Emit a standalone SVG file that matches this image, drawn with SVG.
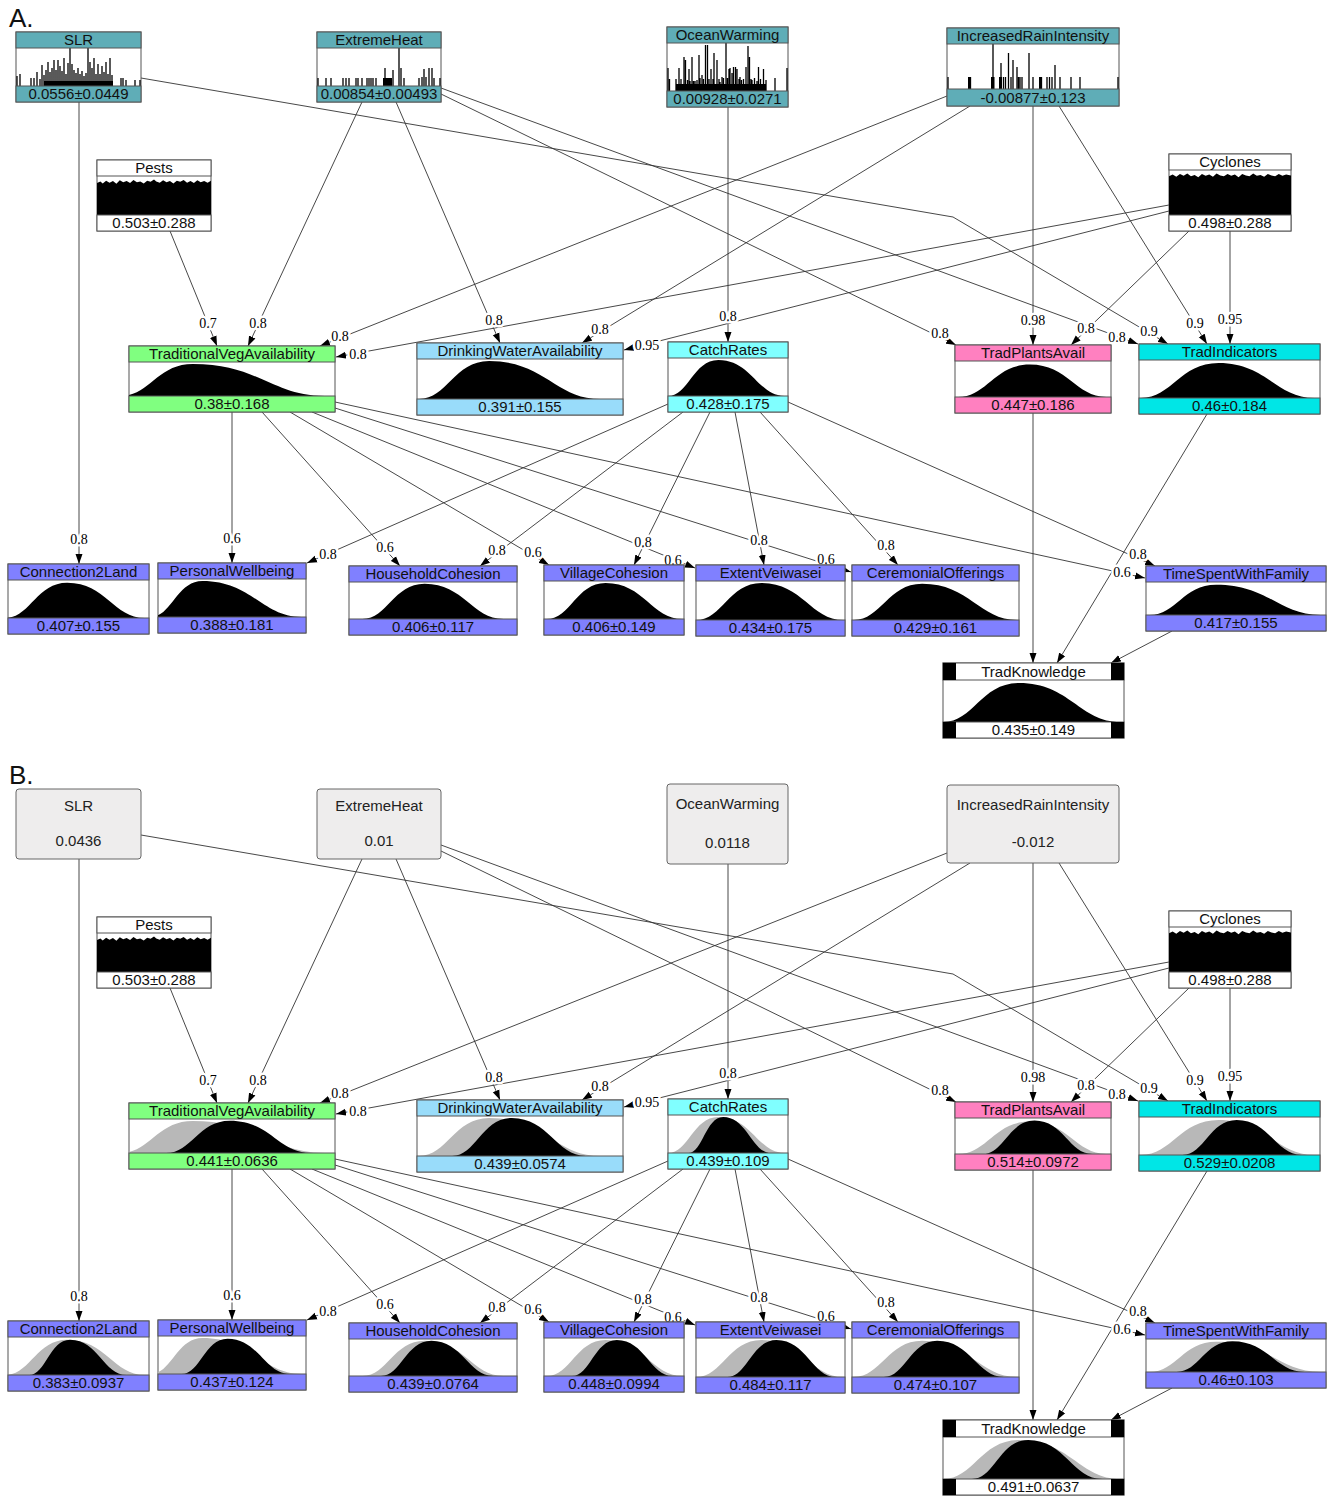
<svg xmlns="http://www.w3.org/2000/svg" xmlns:xlink="http://www.w3.org/1999/xlink" width="1328" height="1505" viewBox="0 0 1328 1505">
<style>
.box{fill:#fff;stroke:#555;stroke-width:1}
.hd{stroke:#555;stroke-width:1}
.nt{font-family:"Liberation Sans",Arial,sans-serif;font-size:15px;text-anchor:middle;fill:#111}
.gt{font-family:"Liberation Sans",Arial,sans-serif;font-size:15px;text-anchor:middle;fill:#222}
.gb{fill:#eeeded;stroke:#666;stroke-width:1}
.el{font-family:"Liberation Serif","Times New Roman",serif;font-size:14px;text-anchor:middle;fill:#000;stroke:#fff;stroke-width:5;stroke-linejoin:round;paint-order:stroke}
.e{fill:none;stroke:#333;stroke-width:0.9;marker-end:url(#ah)}
.sp{fill:none;stroke:#000;stroke-width:1.3}
.pl{font-family:"Liberation Sans",Arial,sans-serif;font-size:26px;fill:#111}
.pr{fill:#b8b8b8}
</style>
<defs>
<marker id="ah" markerUnits="userSpaceOnUse" markerWidth="10" markerHeight="8" viewBox="0 0 10 8" refX="10" refY="4" orient="auto"><path d="M0,0.5L10,4L0,7.5Z" fill="#000"/></marker>
<path id="dTVA" d="M-4,100 C10,100 13.5,6 31,6 C63,6 69.4,100 95,100 Z"/>
<path id="dDWA" d="M1,100 C14.6,100 18,5 35,5 C62,5 67.4,100 89,100 Z"/>
<path id="dCR" d="M0,100 C16.8,100 21,5 42,5 C69.5,5 75,100 97,100 Z"/>
<path id="dTPA" d="M2,100 C20.4,100 25,10 48,10 C72.5,10 77.4,100 97,100 Z"/>
<path id="dTI" d="M1,100 C18.2,100 22.5,8 44,8 C70.5,8 75.8,100 97,100 Z"/>
<path id="dC2L" d="M-2,100 C15.6,100 20,7 42,7 C69.5,7 75,100 97,100 Z"/>
<path id="dPW" d="M-5,100 C9,100 12.5,5 30,5 C63.5,5 70.2,100 97,100 Z"/>
<path id="dHC" d="M8,100 C22.8,100 26.5,5 45,5 C68.5,5 73.2,100 92,100 Z"/>
<path id="dVC" d="M2,100 C18.8,100 23,5 44,5 C71.5,5 77,100 99,100 Z"/>
<path id="dEV" d="M0,100 C17.6,100 22,5 44,5 C71.5,5 77,100 99,100 Z"/>
<path id="dCO" d="M1,100 C17.4,100 21.5,7 42,7 C70.5,7 76.2,100 99,100 Z"/>
<path id="dTSF" d="M2,100 C16.8,100 20.5,8 39,8 C68,8 73.8,100 97,100 Z"/>
<path id="dTK" d="M0,100 C16.8,100 21,7 42,7 C70,7 75.6,100 98,100 Z"/>
<path id="dPests" d="M0,100 V18 L3,14 L5,19 L8,12 L11,17 L14,13 L17,20 L20,11 L23,16 L26,13 L29,18 L32,10 L35,16 L38,14 L41,19 L44,12 L47,15 L50,9 L52,14 L55,17 L58,11 L61,16 L64,13 L67,19 L70,12 L73,15 L76,10 L79,17 L82,13 L85,18 L88,11 L91,16 L94,13 L97,17 L100,12 V100 Z"/>
<path id="dCyc" d="M0,100 V14 L3,10 L6,15 L9,9 L12,13 L15,8 L18,14 L21,11 L24,16 L27,9 L30,13 L33,10 L36,15 L39,8 L42,12 L45,14 L48,9 L51,13 L54,10 L57,16 L60,9 L63,12 L66,14 L69,8 L72,13 L75,11 L78,15 L81,9 L84,12 L87,14 L90,9 L93,13 L96,10 L100,12 V100 Z"/>
</defs>
<rect width="1328" height="1505" fill="#fff"/>
<text class="pl" x="9" y="27">A.</text>
<text class="pl" x="9" y="784">B.</text>

<!-- ================= PART A ================= -->
<g id="partA">
<g id="A-connectors">
<path class="e" d="M79,102V564"/>
<path class="e" d="M141,78L953,217L1168,344"/>
<path class="e" d="M362,102L248,346"/>
<path class="e" d="M396,102L500,343"/>
<path class="e" d="M441,88L1138,344"/>
<path class="e" d="M441,94L956,345"/>
<path class="e" d="M728,107V342"/>
<path class="e" d="M947,96L320,346"/>
<path class="e" d="M970,106L582,343"/>
<path class="e" d="M1033,106V345"/>
<path class="e" d="M1059,106L1207,344"/>
<path class="e" d="M170,231L217,346"/>
<path class="e" d="M1169,205L336,357"/>
<path class="e" d="M1169,211L624,350"/>
<path class="e" d="M1189,231L1071,345"/>
<path class="e" d="M1230,231V344"/>
<path class="e" d="M232,412V563"/>
<path class="e" d="M262,412L400,566"/>
<path class="e" d="M290,412L549,565"/>
<path class="e" d="M312,412L695,568"/>
<path class="e" d="M335,408L851,572"/>
<path class="e" d="M335,402L1145,578"/>
<path class="e" d="M668,404L307,563"/>
<path class="e" d="M683,412L480,566"/>
<path class="e" d="M710,412L634,565"/>
<path class="e" d="M735,412L764,565"/>
<path class="e" d="M760,412L898,565"/>
<path class="e" d="M788,402L1155,566"/>
<path class="e" d="M1033,413V663"/>
<path class="e" d="M1207,414L1057,663"/>
<path class="e" d="M1172,631L1111,663"/>
<text class="el" x="79" y="544">0.8</text>
<text class="el" x="1149" y="336">0.9</text>
<text class="el" x="258" y="328">0.8</text>
<text class="el" x="494" y="325">0.8</text>
<text class="el" x="1117" y="342">0.8</text>
<text class="el" x="940" y="338">0.8</text>
<text class="el" x="728" y="321">0.8</text>
<text class="el" x="340" y="341">0.8</text>
<text class="el" x="600" y="334">0.8</text>
<text class="el" x="1033" y="325">0.98</text>
<text class="el" x="1195" y="328">0.9</text>
<text class="el" x="208" y="328">0.7</text>
<text class="el" x="358" y="359">0.8</text>
<text class="el" x="647" y="350">0.95</text>
<text class="el" x="1086" y="333">0.8</text>
<text class="el" x="1230" y="324">0.95</text>
<text class="el" x="232" y="543">0.6</text>
<text class="el" x="385" y="552">0.6</text>
<text class="el" x="533" y="557">0.6</text>
<text class="el" x="673" y="565">0.6</text>
<text class="el" x="826" y="564">0.6</text>
<text class="el" x="1122" y="577">0.6</text>
<text class="el" x="328" y="559">0.8</text>
<text class="el" x="497" y="555">0.8</text>
<text class="el" x="643" y="547">0.8</text>
<text class="el" x="759" y="545">0.8</text>
<text class="el" x="886" y="550">0.8</text>
<text class="el" x="1138" y="559">0.8</text>
</g>

<g id="A-SLR">
<rect class="box" x="16" y="32" width="125" height="70"/>
<rect x="44" y="81" width="69" height="5"/>
<path class="sp" d="M17,86V76M20,86V74M31,86V78M34,86V78M37,86V72M40,86V79M42,86V65M44,86V75M46,86V70M48,86V62M50,86V72M52,86V68M54,86V60M56,86V70M58,86V60M60,86V66M62,86V71M64,86V58M66,86V74M68,86V63M70,86V48M72,86V64M74,86V70M76,86V73M78,86V68M80,86V74M82,86V71M84,86V76M86,86V73M88,86V48M90,86V62M92,86V68M94,86V58M96,86V74M98,86V64M100,86V74M102,86V66M104,86V72M106,86V62M108,86V74M110,86V58M112,86V75M121,86V78M123,86V78M126,86V80M135,86V80M140,86V80"/>
<rect class="hd" x="16" y="32" width="125" height="16" fill="#5fadb7"/>
<rect class="hd" x="16" y="86" width="125" height="16" fill="#5fadb7"/>
<text class="nt" x="78.5" y="45">SLR</text>
<text class="nt" x="78.5" y="99">0.0556±0.0449</text>
</g>

<g id="A-ExtremeHeat">
<rect class="box" x="317" y="32" width="124" height="70"/>
<rect x="383" y="78" width="9" height="8"/>
<path class="sp" d="M318,86V78M326,86V78M331,86V78M343,86V78M346,86V78M349,86V78M356,86V78M358,86V78M362,86V78M367,86V78M369,86V78M371,86V78M373,86V78M376,86V78M385,86V68M393,86V70M399,86V48M401,86V68M404,86V78M419,86V78M422,86V77M424,86V69M426,86V77M429,86V68M432,86V68M434,86V78M440,86V78"/>
<rect class="hd" x="317" y="32" width="124" height="16" fill="#5fadb7"/>
<rect class="hd" x="317" y="86" width="124" height="16" fill="#5fadb7"/>
<text class="nt" x="379" y="45">ExtremeHeat</text>
<text class="nt" x="379" y="99">0.00854±0.00493</text>
</g>

<g id="A-OceanWarming">
<rect class="box" x="667" y="27" width="121" height="80"/>
<rect x="676" y="84" width="90" height="7"/>
<path class="sp" d="M668,91V68M669.5,91V79M676,91V79M679,91V68M681,91V79M684,91V57M685.5,91V60M687.5,91V80M689,91V69M690,91V81M692,91V57M693.5,91V81M695,91V81M697,91V80M699,91V55M700,91V78M702,91V75M703.5,91V79M705.5,91V45M707.5,91V45M709,91V79M711,91V69M713,91V79M714,91V53M717,91V60M719,91V79M720,91V82M722,91V77M723.5,91V78M726,91V43M727.5,91V78M729,91V69M730,91V68M732,91V73M733.5,91V67M735.5,91V67M737,91V69M739,91V79M740,91V77M741.5,91V80M743.5,91V79M746,91V67M748,91V46M749.5,91V57M751,91V79M752,91V80M754.5,91V78M757,91V81M758.5,91V67M760.5,91V79M763.5,91V69M766,91V80M775,91V78M787,91V68"/>
<rect class="hd" x="667" y="27" width="121" height="16" fill="#5fadb7"/>
<rect class="hd" x="667" y="91" width="121" height="16" fill="#5fadb7"/>
<text class="nt" x="727.5" y="40">OceanWarming</text>
<text class="nt" x="727.5" y="104">0.00928±0.0271</text>
</g>

<g id="A-IncreasedRainIntensity">
<rect class="box" x="947" y="28" width="172" height="78"/>
<rect x="968" y="77" width="3" height="12"/>
<rect x="991" y="77" width="3.5" height="12"/>
<rect x="999" y="77" width="3" height="12"/>
<rect x="1039" y="77" width="3" height="12"/>
<path class="sp" d="M948,89V77M969,89V77M970.5,89V77M993,89V44M1000,89V77M1001,89V63M1003.5,89V77M1005.5,89V77M1008.5,89V53M1011,89V77M1013,89V60M1017,89V67M1018.5,89V77M1020,89V77M1022,89V77M1029,89V53M1033,89V77M1040,89V77M1041.5,89V77M1047,89V77M1049.5,89V77M1052,89V77M1055,89V65M1060,89V77M1071,89V77M1080,89V77M1118,89V77"/>
<rect class="hd" x="947" y="28" width="172" height="16" fill="#5fadb7"/>
<rect class="hd" x="947" y="89" width="172" height="17" fill="#5fadb7"/>
<text class="nt" x="1033" y="41">IncreasedRainIntensity</text>
<text class="nt" x="1033" y="103">-0.00877±0.123</text>
</g>

<g id="A-Pests">
<rect class="box" x="97" y="160" width="114" height="71"/>
<svg x="97" y="176" width="114" height="39" viewBox="0 0 100 100" preserveAspectRatio="none"><use xlink:href="#dPests" href="#dPests"/></svg>
<rect class="hd" x="97" y="160" width="114" height="16" fill="#fff"/>
<rect class="hd" x="97" y="215" width="114" height="16" fill="#fff"/>
<text class="nt" x="154" y="173">Pests</text>
<text class="nt" x="154" y="228">0.503±0.288</text>
</g>

<g id="A-Cyclones">
<rect class="box" x="1169" y="154" width="122" height="77"/>
<svg x="1169" y="170" width="122" height="45" viewBox="0 0 100 100" preserveAspectRatio="none"><use xlink:href="#dCyc" href="#dCyc"/></svg>
<rect class="hd" x="1169" y="154" width="122" height="16" fill="#fff"/>
<rect class="hd" x="1169" y="215" width="122" height="16" fill="#fff"/>
<text class="nt" x="1230" y="167">Cyclones</text>
<text class="nt" x="1230" y="228">0.498±0.288</text>
</g>

<g id="A-TraditionalVegAvailability">
<rect class="box" x="129" y="346" width="206" height="66"/>
<svg x="129" y="362" width="206" height="34" viewBox="0 0 100 100" preserveAspectRatio="none"><use xlink:href="#dTVA" href="#dTVA"/></svg>
<rect class="hd" x="129" y="346" width="206" height="16" fill="#80ff80"/>
<rect class="hd" x="129" y="396" width="206" height="16" fill="#80ff80"/>
<text class="nt" x="232" y="359">TraditionalVegAvailability</text>
<text class="nt" x="232" y="409">0.38±0.168</text>
</g>

<g id="A-DrinkingWaterAvailability">
<rect class="box" x="417" y="343" width="206" height="72"/>
<svg x="417" y="359" width="206" height="40" viewBox="0 0 100 100" preserveAspectRatio="none"><use xlink:href="#dDWA" href="#dDWA"/></svg>
<rect class="hd" x="417" y="343" width="206" height="16" fill="#99dcfa"/>
<rect class="hd" x="417" y="399" width="206" height="16" fill="#99dcfa"/>
<text class="nt" x="520" y="356">DrinkingWaterAvailability</text>
<text class="nt" x="520" y="412">0.391±0.155</text>
</g>

<g id="A-CatchRates">
<rect class="box" x="668" y="342" width="120" height="70"/>
<svg x="668" y="358" width="120" height="38" viewBox="0 0 100 100" preserveAspectRatio="none"><use xlink:href="#dCR" href="#dCR"/></svg>
<rect class="hd" x="668" y="342" width="120" height="16" fill="#80ffff"/>
<rect class="hd" x="668" y="396" width="120" height="16" fill="#80ffff"/>
<text class="nt" x="728" y="355">CatchRates</text>
<text class="nt" x="728" y="409">0.428±0.175</text>
</g>

<g id="A-TradPlantsAvail">
<rect class="box" x="955" y="345" width="156" height="68"/>
<svg x="955" y="361" width="156" height="36" viewBox="0 0 100 100" preserveAspectRatio="none"><use xlink:href="#dTPA" href="#dTPA"/></svg>
<rect class="hd" x="955" y="345" width="156" height="16" fill="#ff80c0"/>
<rect class="hd" x="955" y="397" width="156" height="16" fill="#ff80c0"/>
<text class="nt" x="1033" y="358">TradPlantsAvail</text>
<text class="nt" x="1033" y="410">0.447±0.186</text>
</g>

<g id="A-TradIndicators">
<rect class="box" x="1139" y="344" width="181" height="70"/>
<svg x="1139" y="360" width="181" height="38" viewBox="0 0 100 100" preserveAspectRatio="none"><use xlink:href="#dTI" href="#dTI"/></svg>
<rect class="hd" x="1139" y="344" width="181" height="16" fill="#00e6e6"/>
<rect class="hd" x="1139" y="398" width="181" height="16" fill="#00e6e6"/>
<text class="nt" x="1229.5" y="357">TradIndicators</text>
<text class="nt" x="1229.5" y="411">0.46±0.184</text>
</g>

<g id="A-Connection2Land">
<rect class="box" x="8" y="564" width="141" height="70"/>
<svg x="8" y="580" width="141" height="38" viewBox="0 0 100 100" preserveAspectRatio="none"><use xlink:href="#dC2L" href="#dC2L"/></svg>
<rect class="hd" x="8" y="564" width="141" height="16" fill="#8080ff"/>
<rect class="hd" x="8" y="618" width="141" height="16" fill="#8080ff"/>
<text class="nt" x="78.5" y="577">Connection2Land</text>
<text class="nt" x="78.5" y="631">0.407±0.155</text>
</g>

<g id="A-PersonalWellbeing">
<rect class="box" x="158" y="563" width="148" height="70"/>
<svg x="158" y="579" width="148" height="38" viewBox="0 0 100 100" preserveAspectRatio="none"><use xlink:href="#dPW" href="#dPW"/></svg>
<rect class="hd" x="158" y="563" width="148" height="16" fill="#8080ff"/>
<rect class="hd" x="158" y="617" width="148" height="16" fill="#8080ff"/>
<text class="nt" x="232" y="576">PersonalWellbeing</text>
<text class="nt" x="232" y="630">0.388±0.181</text>
</g>

<g id="A-HouseholdCohesion">
<rect class="box" x="349" y="566" width="168" height="69"/>
<svg x="349" y="582" width="168" height="37" viewBox="0 0 100 100" preserveAspectRatio="none"><use xlink:href="#dHC" href="#dHC"/></svg>
<rect class="hd" x="349" y="566" width="168" height="16" fill="#8080ff"/>
<rect class="hd" x="349" y="619" width="168" height="16" fill="#8080ff"/>
<text class="nt" x="433" y="579">HouseholdCohesion</text>
<text class="nt" x="433" y="632">0.406±0.117</text>
</g>

<g id="A-VillageCohesion">
<rect class="box" x="544" y="565" width="140" height="70"/>
<svg x="544" y="581" width="140" height="38" viewBox="0 0 100 100" preserveAspectRatio="none"><use xlink:href="#dVC" href="#dVC"/></svg>
<rect class="hd" x="544" y="565" width="140" height="16" fill="#8080ff"/>
<rect class="hd" x="544" y="619" width="140" height="16" fill="#8080ff"/>
<text class="nt" x="614" y="578">VillageCohesion</text>
<text class="nt" x="614" y="632">0.406±0.149</text>
</g>

<g id="A-ExtentVeiwasei">
<rect class="box" x="696" y="565" width="149" height="71"/>
<svg x="696" y="581" width="149" height="39" viewBox="0 0 100 100" preserveAspectRatio="none"><use xlink:href="#dEV" href="#dEV"/></svg>
<rect class="hd" x="696" y="565" width="149" height="16" fill="#8080ff"/>
<rect class="hd" x="696" y="620" width="149" height="16" fill="#8080ff"/>
<text class="nt" x="770.5" y="578">ExtentVeiwasei</text>
<text class="nt" x="770.5" y="633">0.434±0.175</text>
</g>

<g id="A-CeremonialOfferings">
<rect class="box" x="852" y="565" width="167" height="71"/>
<svg x="852" y="581" width="167" height="39" viewBox="0 0 100 100" preserveAspectRatio="none"><use xlink:href="#dCO" href="#dCO"/></svg>
<rect class="hd" x="852" y="565" width="167" height="16" fill="#8080ff"/>
<rect class="hd" x="852" y="620" width="167" height="16" fill="#8080ff"/>
<text class="nt" x="935.5" y="578">CeremonialOfferings</text>
<text class="nt" x="935.5" y="633">0.429±0.161</text>
</g>

<g id="A-TimeSpentWithFamily">
<rect class="box" x="1146" y="566" width="180" height="65"/>
<svg x="1146" y="582" width="180" height="33" viewBox="0 0 100 100" preserveAspectRatio="none"><use xlink:href="#dTSF" href="#dTSF"/></svg>
<rect class="hd" x="1146" y="566" width="180" height="16" fill="#8080ff"/>
<rect class="hd" x="1146" y="615" width="180" height="16" fill="#8080ff"/>
<text class="nt" x="1236" y="579">TimeSpentWithFamily</text>
<text class="nt" x="1236" y="628">0.417±0.155</text>
</g>

<g id="A-TradKnowledge">
<rect class="box" x="943" y="663" width="181" height="75"/>
<svg x="943" y="680" width="181" height="42" viewBox="0 0 100 100" preserveAspectRatio="none"><use xlink:href="#dTK" href="#dTK"/></svg>
<rect class="hd" x="943" y="663" width="181" height="17" fill="#fff"/>
<rect class="hd" x="943" y="722" width="181" height="16" fill="#fff"/>
<rect x="943" y="663" width="13" height="17" fill="#000"/>
<rect x="1111" y="663" width="13" height="17" fill="#000"/>
<rect x="943" y="722" width="13" height="16" fill="#000"/>
<rect x="1111" y="722" width="13" height="16" fill="#000"/>
<text class="nt" x="1033.5" y="677">TradKnowledge</text>
<text class="nt" x="1033.5" y="735">0.435±0.149</text>
</g>
</g>

<!-- ================= PART B ================= -->
<g id="partB" transform="translate(0,757)">
<g id="B-connectors">
<path class="e" d="M79,102V564"/>
<path class="e" d="M141,78L953,217L1168,344"/>
<path class="e" d="M362,102L248,346"/>
<path class="e" d="M396,102L500,343"/>
<path class="e" d="M441,88L1138,344"/>
<path class="e" d="M441,94L956,345"/>
<path class="e" d="M728,107V342"/>
<path class="e" d="M947,96L320,346"/>
<path class="e" d="M970,106L582,343"/>
<path class="e" d="M1033,106V345"/>
<path class="e" d="M1059,106L1207,344"/>
<path class="e" d="M170,231L217,346"/>
<path class="e" d="M1169,205L336,357"/>
<path class="e" d="M1169,211L624,350"/>
<path class="e" d="M1189,231L1071,345"/>
<path class="e" d="M1230,231V344"/>
<path class="e" d="M232,412V563"/>
<path class="e" d="M262,412L400,566"/>
<path class="e" d="M290,412L549,565"/>
<path class="e" d="M312,412L695,568"/>
<path class="e" d="M335,408L851,572"/>
<path class="e" d="M335,402L1145,578"/>
<path class="e" d="M668,404L307,563"/>
<path class="e" d="M683,412L480,566"/>
<path class="e" d="M710,412L634,565"/>
<path class="e" d="M735,412L764,565"/>
<path class="e" d="M760,412L898,565"/>
<path class="e" d="M788,402L1155,566"/>
<path class="e" d="M1033,413V663"/>
<path class="e" d="M1207,414L1057,663"/>
<path class="e" d="M1172,631L1111,663"/>
<text class="el" x="79" y="544">0.8</text>
<text class="el" x="1149" y="336">0.9</text>
<text class="el" x="258" y="328">0.8</text>
<text class="el" x="494" y="325">0.8</text>
<text class="el" x="1117" y="342">0.8</text>
<text class="el" x="940" y="338">0.8</text>
<text class="el" x="728" y="321">0.8</text>
<text class="el" x="340" y="341">0.8</text>
<text class="el" x="600" y="334">0.8</text>
<text class="el" x="1033" y="325">0.98</text>
<text class="el" x="1195" y="328">0.9</text>
<text class="el" x="208" y="328">0.7</text>
<text class="el" x="358" y="359">0.8</text>
<text class="el" x="647" y="350">0.95</text>
<text class="el" x="1086" y="333">0.8</text>
<text class="el" x="1230" y="324">0.95</text>
<text class="el" x="232" y="543">0.6</text>
<text class="el" x="385" y="552">0.6</text>
<text class="el" x="533" y="557">0.6</text>
<text class="el" x="673" y="565">0.6</text>
<text class="el" x="826" y="564">0.6</text>
<text class="el" x="1122" y="577">0.6</text>
<text class="el" x="328" y="559">0.8</text>
<text class="el" x="497" y="555">0.8</text>
<text class="el" x="643" y="547">0.8</text>
<text class="el" x="759" y="545">0.8</text>
<text class="el" x="886" y="550">0.8</text>
<text class="el" x="1138" y="559">0.8</text>
</g>

<g id="B-SLR">
<rect class="gb" x="16" y="32" width="125" height="70" rx="3"/>
<text class="gt" x="78.5" y="54">SLR</text>
<text class="gt" x="78.5" y="89">0.0436</text>
</g>
<g id="B-ExtremeHeat">
<rect class="gb" x="317" y="32" width="124" height="70" rx="3"/>
<text class="gt" x="379" y="54">ExtremeHeat</text>
<text class="gt" x="379" y="89">0.01</text>
</g>
<g id="B-OceanWarming">
<rect class="gb" x="667" y="27" width="121" height="80" rx="3"/>
<text class="gt" x="727.5" y="52">OceanWarming</text>
<text class="gt" x="727.5" y="91">0.0118</text>
</g>
<g id="B-IncreasedRainIntensity">
<rect class="gb" x="947" y="28" width="172" height="78" rx="3"/>
<text class="gt" x="1033" y="53">IncreasedRainIntensity</text>
<text class="gt" x="1033" y="90">-0.012</text>
</g>

<g id="B-Pests">
<rect class="box" x="97" y="160" width="114" height="71"/>
<svg x="97" y="176" width="114" height="39" viewBox="0 0 100 100" preserveAspectRatio="none"><use xlink:href="#dPests" href="#dPests"/></svg>
<rect class="hd" x="97" y="160" width="114" height="16" fill="#fff"/>
<rect class="hd" x="97" y="215" width="114" height="16" fill="#fff"/>
<text class="nt" x="154" y="173">Pests</text>
<text class="nt" x="154" y="228">0.503±0.288</text>
</g>

<g id="B-Cyclones">
<rect class="box" x="1169" y="154" width="122" height="77"/>
<svg x="1169" y="170" width="122" height="45" viewBox="0 0 100 100" preserveAspectRatio="none"><use xlink:href="#dCyc" href="#dCyc"/></svg>
<rect class="hd" x="1169" y="154" width="122" height="16" fill="#fff"/>
<rect class="hd" x="1169" y="215" width="122" height="16" fill="#fff"/>
<text class="nt" x="1230" y="167">Cyclones</text>
<text class="nt" x="1230" y="228">0.498±0.288</text>
</g>

<g id="B-TraditionalVegAvailability">
<rect class="box" x="129" y="346" width="206" height="66"/>
<svg x="129" y="362" width="206" height="34" viewBox="0 0 100 100" preserveAspectRatio="none"><use class="pr" xlink:href="#dTVA" href="#dTVA"/><path d="M18,100 C30.4,100 33.5,5 49,5 C68.5,5 72.4,100 88,100 Z"/></svg>
<rect class="hd" x="129" y="346" width="206" height="16" fill="#80ff80"/>
<rect class="hd" x="129" y="396" width="206" height="16" fill="#80ff80"/>
<text class="nt" x="232" y="359">TraditionalVegAvailability</text>
<text class="nt" x="232" y="409">0.441±0.0636</text>
</g>

<g id="B-DrinkingWaterAvailability">
<rect class="box" x="417" y="343" width="206" height="72"/>
<svg x="417" y="359" width="206" height="40" viewBox="0 0 100 100" preserveAspectRatio="none"><use class="pr" xlink:href="#dDWA" href="#dDWA"/><path d="M17,100 C28.6,100 31.5,5 46,5 C64,5 67.6,100 82,100 Z"/></svg>
<rect class="hd" x="417" y="343" width="206" height="16" fill="#99dcfa"/>
<rect class="hd" x="417" y="399" width="206" height="16" fill="#99dcfa"/>
<text class="nt" x="520" y="356">DrinkingWaterAvailability</text>
<text class="nt" x="520" y="412">0.439±0.0574</text>
</g>

<g id="B-CatchRates">
<rect class="box" x="668" y="342" width="120" height="70"/>
<svg x="668" y="358" width="120" height="38" viewBox="0 0 100 100" preserveAspectRatio="none"><use class="pr" xlink:href="#dCR" href="#dCR"/><path d="M17,100 C28.6,100 31.5,5 46,5 C66,5 70,100 86,100 Z"/></svg>
<rect class="hd" x="668" y="342" width="120" height="16" fill="#80ffff"/>
<rect class="hd" x="668" y="396" width="120" height="16" fill="#80ffff"/>
<text class="nt" x="728" y="355">CatchRates</text>
<text class="nt" x="728" y="409">0.439±0.109</text>
</g>

<g id="B-TradPlantsAvail">
<rect class="box" x="955" y="345" width="156" height="68"/>
<svg x="955" y="361" width="156" height="36" viewBox="0 0 100 100" preserveAspectRatio="none"><use class="pr" xlink:href="#dTPA" href="#dTPA"/><path d="M18,100 C31.2,100 34.5,7 51,7 C69.5,7 73.2,100 88,100 Z"/></svg>
<rect class="hd" x="955" y="345" width="156" height="16" fill="#ff80c0"/>
<rect class="hd" x="955" y="397" width="156" height="16" fill="#ff80c0"/>
<text class="nt" x="1033" y="358">TradPlantsAvail</text>
<text class="nt" x="1033" y="410">0.514±0.0972</text>
</g>

<g id="B-TradIndicators">
<rect class="box" x="1139" y="344" width="181" height="70"/>
<svg x="1139" y="360" width="181" height="38" viewBox="0 0 100 100" preserveAspectRatio="none"><use class="pr" xlink:href="#dTI" href="#dTI"/><path d="M24,100 C36,100 39,8 54,8 C72,8 75.6,100 90,100 Z"/></svg>
<rect class="hd" x="1139" y="344" width="181" height="16" fill="#00e6e6"/>
<rect class="hd" x="1139" y="398" width="181" height="16" fill="#00e6e6"/>
<text class="nt" x="1229.5" y="357">TradIndicators</text>
<text class="nt" x="1229.5" y="411">0.529±0.0208</text>
</g>

<g id="B-Connection2Land">
<rect class="box" x="8" y="564" width="141" height="70"/>
<svg x="8" y="580" width="141" height="38" viewBox="0 0 100 100" preserveAspectRatio="none"><use class="pr" xlink:href="#dC2L" href="#dC2L"/><path d="M15,100 C26.6,100 29.5,7 44,7 C64,7 68,100 84,100 Z"/></svg>
<rect class="hd" x="8" y="564" width="141" height="16" fill="#8080ff"/>
<rect class="hd" x="8" y="618" width="141" height="16" fill="#8080ff"/>
<text class="nt" x="78.5" y="577">Connection2Land</text>
<text class="nt" x="78.5" y="631">0.383±0.0937</text>
</g>

<g id="B-PersonalWellbeing">
<rect class="box" x="158" y="563" width="148" height="70"/>
<svg x="158" y="579" width="148" height="38" viewBox="0 0 100 100" preserveAspectRatio="none"><use class="pr" xlink:href="#dPW" href="#dPW"/><path d="M16,100 C28.4,100 31.5,7 47,7 C68,7 72.2,100 89,100 Z"/></svg>
<rect class="hd" x="158" y="563" width="148" height="16" fill="#8080ff"/>
<rect class="hd" x="158" y="617" width="148" height="16" fill="#8080ff"/>
<text class="nt" x="232" y="576">PersonalWellbeing</text>
<text class="nt" x="232" y="630">0.437±0.124</text>
</g>

<g id="B-HouseholdCohesion">
<rect class="box" x="349" y="566" width="168" height="69"/>
<svg x="349" y="582" width="168" height="37" viewBox="0 0 100 100" preserveAspectRatio="none"><use class="pr" xlink:href="#dHC" href="#dHC"/><path d="M19,100 C31,100 34,5 49,5 C67.5,5 71.2,100 86,100 Z"/></svg>
<rect class="hd" x="349" y="566" width="168" height="16" fill="#8080ff"/>
<rect class="hd" x="349" y="619" width="168" height="16" fill="#8080ff"/>
<text class="nt" x="433" y="579">HouseholdCohesion</text>
<text class="nt" x="433" y="632">0.439±0.0764</text>
</g>

<g id="B-VillageCohesion">
<rect class="box" x="544" y="565" width="140" height="70"/>
<svg x="544" y="581" width="140" height="38" viewBox="0 0 100 100" preserveAspectRatio="none"><use class="pr" xlink:href="#dVC" href="#dVC"/><path d="M20,100 C32.8,100 36,5 52,5 C72,5 76,100 92,100 Z"/></svg>
<rect class="hd" x="544" y="565" width="140" height="16" fill="#8080ff"/>
<rect class="hd" x="544" y="619" width="140" height="16" fill="#8080ff"/>
<text class="nt" x="614" y="578">VillageCohesion</text>
<text class="nt" x="614" y="632">0.448±0.0994</text>
</g>

<g id="B-ExtentVeiwasei">
<rect class="box" x="696" y="565" width="149" height="71"/>
<svg x="696" y="581" width="149" height="39" viewBox="0 0 100 100" preserveAspectRatio="none"><use class="pr" xlink:href="#dEV" href="#dEV"/><path d="M21,100 C34.2,100 37.5,5 54,5 C74,5 78,100 94,100 Z"/></svg>
<rect class="hd" x="696" y="565" width="149" height="16" fill="#8080ff"/>
<rect class="hd" x="696" y="620" width="149" height="16" fill="#8080ff"/>
<text class="nt" x="770.5" y="578">ExtentVeiwasei</text>
<text class="nt" x="770.5" y="633">0.484±0.117</text>
</g>

<g id="B-CeremonialOfferings">
<rect class="box" x="852" y="565" width="167" height="71"/>
<svg x="852" y="581" width="167" height="39" viewBox="0 0 100 100" preserveAspectRatio="none"><use class="pr" xlink:href="#dCO" href="#dCO"/><path d="M19,100 C31.8,100 35,7 51,7 C71,7 75,100 91,100 Z"/></svg>
<rect class="hd" x="852" y="565" width="167" height="16" fill="#8080ff"/>
<rect class="hd" x="852" y="620" width="167" height="16" fill="#8080ff"/>
<text class="nt" x="935.5" y="578">CeremonialOfferings</text>
<text class="nt" x="935.5" y="633">0.474±0.107</text>
</g>

<g id="B-TimeSpentWithFamily">
<rect class="box" x="1146" y="566" width="180" height="65"/>
<svg x="1146" y="582" width="180" height="33" viewBox="0 0 100 100" preserveAspectRatio="none"><use class="pr" xlink:href="#dTSF" href="#dTSF"/><path d="M17,100 C29.4,100 32.5,7 48,7 C68,7 72,100 88,100 Z"/></svg>
<rect class="hd" x="1146" y="566" width="180" height="16" fill="#8080ff"/>
<rect class="hd" x="1146" y="615" width="180" height="16" fill="#8080ff"/>
<text class="nt" x="1236" y="579">TimeSpentWithFamily</text>
<text class="nt" x="1236" y="628">0.46±0.103</text>
</g>

<g id="B-TradKnowledge">
<rect class="box" x="943" y="663" width="181" height="75"/>
<svg x="943" y="680" width="181" height="42" viewBox="0 0 100 100" preserveAspectRatio="none"><use class="pr" xlink:href="#dTK" href="#dTK"/><path d="M16,100 C28.4,100 31.5,7 47,7 C67.5,7 71.6,100 88,100 Z"/></svg>
<rect class="hd" x="943" y="663" width="181" height="17" fill="#fff"/>
<rect class="hd" x="943" y="722" width="181" height="16" fill="#fff"/>
<rect x="943" y="663" width="13" height="17" fill="#000"/>
<rect x="1111" y="663" width="13" height="17" fill="#000"/>
<rect x="943" y="722" width="13" height="16" fill="#000"/>
<rect x="1111" y="722" width="13" height="16" fill="#000"/>
<text class="nt" x="1033.5" y="677">TradKnowledge</text>
<text class="nt" x="1033.5" y="735">0.491±0.0637</text>
</g>
</g>
</svg>
